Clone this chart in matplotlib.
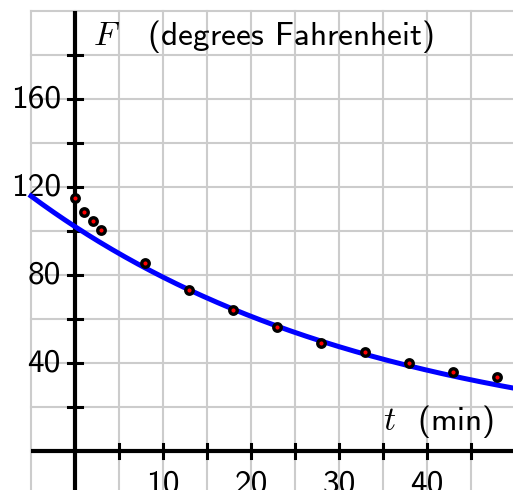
import numpy as np
import matplotlib.pyplot as plt

plt.rcParams['mathtext.fontset'] = 'cm'

# measured data: time (min) and temperature (F)
t_data = [0, 1, 2, 3, 8, 13, 18, 23, 28, 33, 38, 43, 48]
F_data = [115, 108.6, 104.5, 100.5, 85.5, 73, 64, 56.4, 49, 45, 40, 36, 33.6]

# fitted exponential model F = a * b**t
fit_a = 102.0
fit_b = 0.9748

x_ticks = [5, 10, 15, 20, 25, 30, 35, 40, 45]
x_labels = [10, 20, 30, 40]
y_ticks = [20, 40, 60, 80, 100, 120, 140, 160, 180]
y_labels = [40, 80, 120, 160]

fig = plt.figure(figsize=(5.13, 4.90), dpi=100)
ax = fig.add_axes([0, 0, 1, 1])
ax.set_xlim(-75 / 8.8, 438 / 8.8)
ax.set_ylim(-39 / 2.2, 451 / 2.2)
ax.axis('off')

# grid
gx0, gx1, gy0, gy1 = -5, 55, -25, 200
for gx in np.arange(-5, 55, 5):
    ax.plot([gx, gx], [gy0, gy1], color='#cccccc', lw=1.5, zorder=1)
for gy in np.arange(-20, 201, 20):
    ax.plot([gx0, gx1], [gy, gy], color='#cccccc', lw=1.5, zorder=1)

# axes
ax.plot([0, 0], [gy0, gy1], color='black', lw=3, zorder=3, solid_capstyle='butt')
ax.plot([gx0, gx1], [0, 0], color='black', lw=3, zorder=3, solid_capstyle='butt')

# ticks
for tx in x_ticks:
    ax.plot([tx, tx], [-7 / 2.2, 7 / 2.2], color='black', lw=2.2, zorder=3)
for ty in y_ticks:
    ax.plot([-7 / 8.8, 7 / 8.8], [ty, ty], color='black', lw=2.2, zorder=3)

for lx in x_labels:
    ax.text(lx, -8.5, str(lx), ha='center', va='top', fontsize=24,
            fontfamily='cmss10')
for ly in y_labels:
    ax.text(-1.6, ly, str(ly), ha='right', va='center', fontsize=24,
            fontfamily='cmss10')

# curve
tt = np.linspace(-5, 50, 300)
ax.plot(tt, fit_a * fit_b ** tt, color='#0000ff', lw=3.6, zorder=4)

# data points
ax.plot(t_data, F_data, 'o', ms=5.4, mfc='red', mec='black', mew=2.4, zorder=5)

ax.text(2.05, 184.5, r'$F$   (degrees Fahrenheit)', ha='left', va='baseline',
        fontsize=24, fontfamily='cmss10')
ax.text(35, 9.5, r'$t$  (min)', ha='left', va='baseline',
        fontsize=24, fontfamily='cmss10')

fig.savefig('out.png', dpi=100)
